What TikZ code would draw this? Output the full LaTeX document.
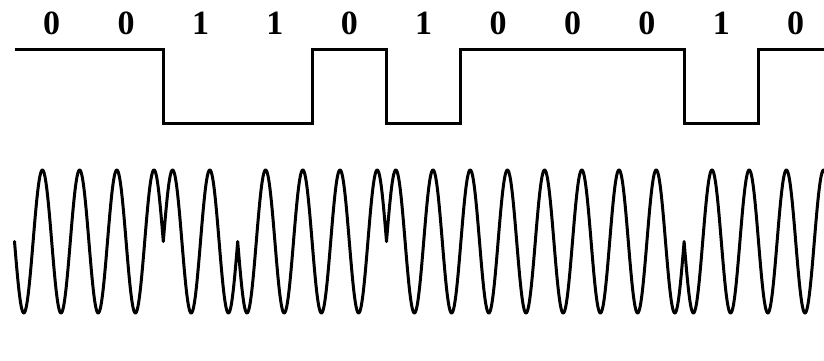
\documentclass[tikz,border=0pt]{standalone}
\usepackage{fontspec}
\setmainfont{Liberation Serif}
\begin{document}
\begin{tikzpicture}[x=1pt,y=-1pt,
  bit/.style={anchor=base, inner sep=0pt, font=\fontsize{34}{40}\selectfont\bfseries},
  level/.style={line width=3pt, line join=miter},
  carrier/.style={line width=3pt, line join=round, line cap=round}]
\useasboundingbox (0,0) rectangle (824,361);
\node[bit] (b0) at (51.7,35) {0};
\node[bit] (b1) at (126.1,35) {0};
\node[bit] (b2) at (200.5,35) {1};
\node[bit] (b3) at (274.9,35) {1};
\node[bit] (b4) at (349.3,35) {0};
\node[bit] (b5) at (423.7,35) {1};
\node[bit] (b6) at (498.1,35) {0};
\node[bit] (b7) at (572.5,35) {0};
\node[bit] (b8) at (646.9,35) {0};
\node[bit] (b9) at (721.3,35) {1};
\node[bit] (b10) at (795.7,35) {0};
% data signal
\draw[level] (14.5,50) -- (163.3,50) -- (163.3,123) -- (312.1,123) -- (312.1,50)
  -- (386.5,50) -- (386.5,123) -- (460.9,123) -- (460.9,50) -- (684.1,50)
  -- (684.1,123) -- (758.5,123) -- (758.5,50) -- (824,50);
% modulated carrier, phase flips at each 1
\begin{scope}
\clip (0,0) rectangle (824,361);
\draw[carrier]
  plot[domain=14.5:163.3, samples=300] (\x,{241.5+71.5*sin(9.6774*(\x-14.5))})
  -- plot[domain=163.3:237.7, samples=150] (\x,{241.5-71.5*sin(9.6774*(\x-14.5))})
  -- plot[domain=237.7:386.5, samples=300] (\x,{241.5+71.5*sin(9.6774*(\x-14.5))})
  -- plot[domain=386.5:684.1, samples=600] (\x,{241.5-71.5*sin(9.6774*(\x-14.5))})
  -- plot[domain=684.1:826, samples=300] (\x,{241.5+71.5*sin(9.6774*(\x-14.5))});
\end{scope}
\end{tikzpicture}
\end{document}
